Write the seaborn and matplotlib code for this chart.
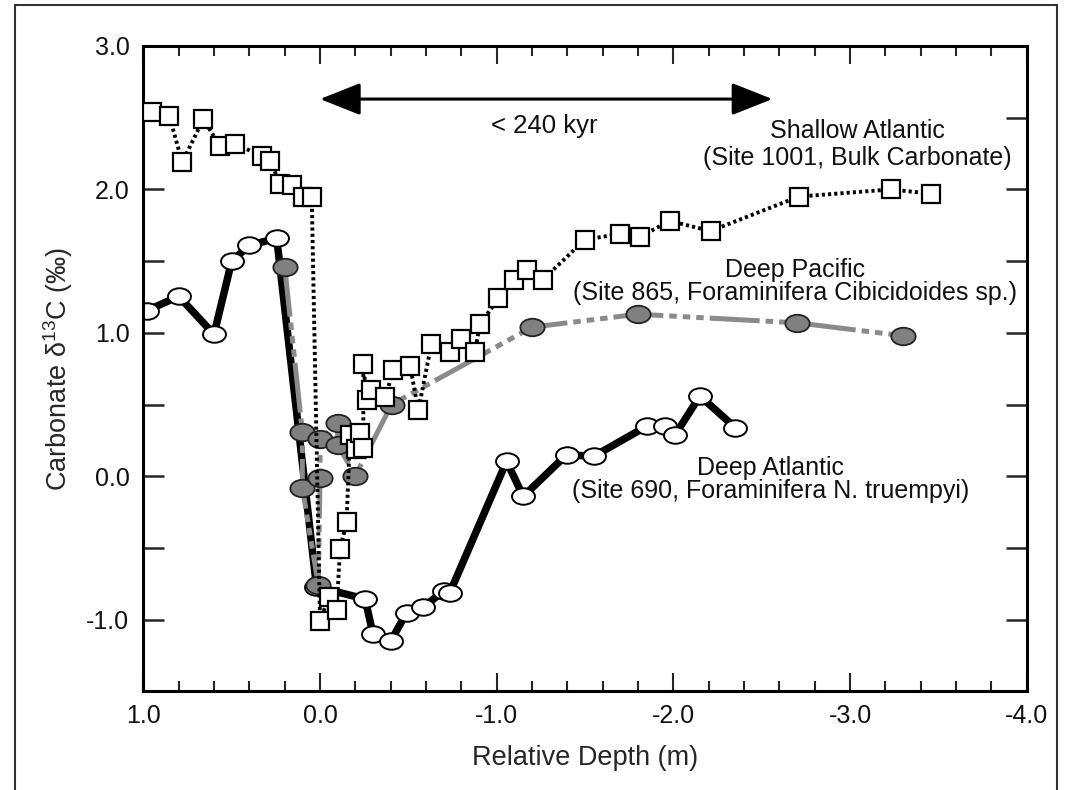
import numpy as np
import pandas as pd
import matplotlib
matplotlib.use("Agg")
import matplotlib.pyplot as plt
from matplotlib.path import Path
from matplotlib.patches import Rectangle
from matplotlib.ticker import MultipleLocator, FormatStrFormatter
import seaborn as sns

# Site 1001, shallow Atlantic, bulk carbonate (squares, dotted)
depth_1001 = [0.953, 0.853, 0.78, 0.66, 0.566, 0.48, 0.33, 0.283, 0.226, 0.16, 0.094, 0.047,
              0.0, -0.05, -0.094, -0.113, -0.15, -0.17, -0.204, -0.226, -0.245, -0.245,
              -0.264, -0.29, -0.368, -0.415, -0.51, -0.556, -0.63, -0.736, -0.80, -0.877,
              -0.905, -1.01, -1.10, -1.17, -1.26, -1.50, -1.70, -1.81, -1.98, -2.21,
              -2.71, -3.23, -3.46]
d13c_1001 = [2.54, 2.51, 2.19, 2.49, 2.30, 2.32, 2.23, 2.20, 2.04, 2.03, 1.95, 1.95,
             -1.01, -0.84, -0.93, -0.51, -0.32, 0.29, 0.19, 0.30, 0.20, 0.78,
             0.53, 0.60, 0.55, 0.74, 0.77, 0.46, 0.92, 0.87, 0.96, 0.87,
             1.06, 1.24, 1.37, 1.44, 1.37, 1.65, 1.69, 1.67, 1.78, 1.71,
             1.95, 2.00, 1.97]

# Site 865, deep Pacific, Cibicidoides sp. (grey circles, dash-dot-dot)
depth_865 = [0.20, 0.10, 0.10, 0.01, 0.0, 0.0, -0.10, -0.10, -0.20, -0.405,
             -1.20, -1.80, -2.70, -3.30]
d13c_865 = [1.46, 0.31, -0.08, -0.755, -0.01, 0.26, 0.37, 0.22, 0.005, 0.50,
            1.04, 1.13, 1.07, 0.98]

# Site 690, deep Atlantic, N. truempyi (open circles, thick solid)
depth_690 = [0.98, 0.80, 0.60, 0.50, 0.40, 0.245, 0.02, -0.255, -0.30, -0.40,
             -0.49, -0.585, -0.70, -0.735, -1.056, -1.15, -1.395, -1.55, -1.85,
             -1.95, -2.01, -2.15, -2.35]
d13c_690 = [1.155, 1.255, 0.99, 1.50, 1.61, 1.66, -0.77, -0.855, -1.10, -1.15,
            -0.95, -0.91, -0.80, -0.81, 0.105, -0.14, 0.15, 0.14, 0.35,
            0.35, 0.29, 0.56, 0.34]

df_1001 = pd.DataFrame({'depth': depth_1001, 'd13c': d13c_1001})
df_865 = pd.DataFrame({'depth': depth_865, 'd13c': d13c_865})
df_690 = pd.DataFrame({'depth': depth_690, 'd13c': d13c_690})

sns.set_style("ticks")
plt.rcParams['font.family'] = ['Liberation Sans', 'DejaVu Sans']
plt.rcParams['axes.unicode_minus'] = False
plt.rcParams['mathtext.fontset'] = 'custom'
plt.rcParams['mathtext.rm'] = 'Liberation Sans'
plt.rcParams['mathtext.it'] = 'Liberation Sans:italic'
plt.rcParams['text.color'] = '#111111'

# flattened circle marker
circ = Path.unit_circle()
ellipse = Path(circ.vertices * np.array([1.0, 0.72]), circ.codes)

fig = plt.figure(figsize=(10.65, 7.9), dpi=100)
ax = fig.add_axes([0.1346, 0.1247, 0.8295, 0.8171])

sns.lineplot(data=df_690, x='depth', y='d13c', sort=False, estimator=None, ax=ax,
             color='black', linewidth=5.4, marker=ellipse, markersize=16.5,
             markerfacecolor='white', markeredgecolor='black', markeredgewidth=1.4,
             zorder=2)
sns.lineplot(data=df_865, x='depth', y='d13c', sort=False, estimator=None, ax=ax,
             color='#8a8a8a', linewidth=3.6, linestyle=(0, (10, 1.2, 1.5, 1.2, 1.5, 1.2, 1.5, 1.2)),
             marker=ellipse, markersize=17.5, markerfacecolor='#808080',
             markeredgecolor='#222222', markeredgewidth=1.3, zorder=3)
sns.lineplot(data=df_1001, x='depth', y='d13c', sort=False, estimator=None, ax=ax,
             color='black', linewidth=2.8, linestyle=(0, (0.8, 0.8)),
             marker='s', markersize=13, markerfacecolor='white',
             markeredgecolor='black', markeredgewidth=1.6, zorder=4)

ax.set_xlim(1.0, -4.0)
ax.set_ylim(-1.5, 3.0)
ax.xaxis.set_major_locator(MultipleLocator(1.0))
ax.xaxis.set_minor_locator(MultipleLocator(0.2))
ax.yaxis.set_major_locator(MultipleLocator(1.0))
ax.yaxis.set_minor_locator(MultipleLocator(0.5))
ax.xaxis.set_major_formatter(FormatStrFormatter('%.1f'))
ax.yaxis.set_major_formatter(FormatStrFormatter('%.1f'))

ax.tick_params(axis='x', which='major', direction='in', length=13, width=1.5,
               top=True, labelsize=18, pad=9, labelcolor='#111111')
ax.tick_params(axis='x', which='minor', direction='in', length=7, width=1.5, top=True)
ax.tick_params(axis='y', which='both', direction='in', length=15, width=1.8,
               right=True, labelsize=18, pad=10, labelcolor='#111111')
for s in ax.spines.values():
    s.set_linewidth(2.2)
    s.set_color('black')

ax.set_xlabel('Relative Depth (m)', fontsize=19.5, labelpad=12)
ax.set_ylabel('Carbonate δ$^{13}$C (‰)', fontsize=19.5, labelpad=8)

# duration arrow
ax.annotate('', xy=(-2.56, 2.63), xytext=(0.0, 2.63),
            arrowprops=dict(arrowstyle='<|-|>,head_length=1.26,head_width=0.5',
                            color='black', lw=2.2, shrinkA=0, shrinkB=0,
                            mutation_scale=20))
ax.text(-1.27, 2.44, '< 240 kyr', fontsize=18.5, ha='center', va='center')

ax.text(-3.04, 2.41, 'Shallow Atlantic', fontsize=18, ha='center', va='center')
ax.text(-3.04, 2.22, '(Site 1001, Bulk Carbonate)', fontsize=18, ha='center', va='center')
ax.text(-2.69, 1.44, 'Deep Pacific', fontsize=18, ha='center', va='center')
ax.text(-2.69, 1.28, '(Site 865, Foraminifera Cibicidoides sp.)', fontsize=18,
        ha='center', va='center')
ax.text(-2.55, 0.056, 'Deep Atlantic', fontsize=18, ha='center', va='center')
ax.text(-2.55, -0.105, '(Site 690, Foraminifera N. truempyi)', fontsize=18,
        ha='center', va='center')

# outer frame
fig.patches.append(Rectangle((15 / 1065, -0.05), (1057 - 15) / 1065, 1 - 5 / 790 + 0.05,
                             transform=fig.transFigure, fill=False,
                             edgecolor='#333333', linewidth=1.5))

fig.savefig('out.png', dpi=100)
